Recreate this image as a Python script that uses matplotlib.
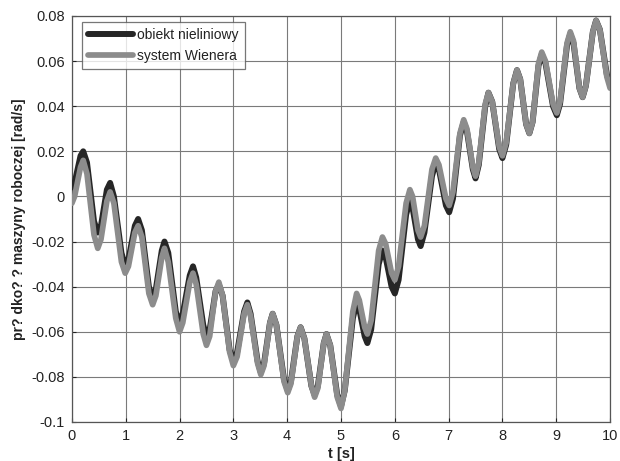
import matplotlib
matplotlib.use("Agg")
import matplotlib.pyplot as plt

# Points (time [s])
t = [0.00, 0.05, 0.16, 0.21, 0.28, 0.41, 0.48, 0.54, 0.65, 0.71, 0.78, 0.92, 0.99, 1.05, 1.17,
     1.23, 1.30, 1.43, 1.50, 1.56, 1.67, 1.72, 1.79, 1.93, 2.00, 2.06, 2.19, 2.25, 2.31, 2.44,
     2.50, 2.56, 2.67, 2.73, 2.80, 2.93, 3.00, 3.07, 3.20, 3.26, 3.32, 3.45, 3.51, 3.57, 3.68,
     3.73, 3.80, 3.94, 4.01, 4.07, 4.19, 4.25, 4.32, 4.45, 4.51, 4.57, 4.68, 4.73, 4.80, 4.93,
     5.00, 5.07, 5.22, 5.29, 5.34, 5.44, 5.49, 5.56, 5.70, 5.77, 5.83, 5.94, 6.00, 6.07, 6.21,
     6.28, 6.33, 6.43, 6.48, 6.55, 6.69, 6.76, 6.82, 6.95, 7.01, 7.08, 7.21, 7.28, 7.34, 7.45,
     7.50, 7.56, 7.68, 7.74, 7.81, 7.94, 8.00, 8.07, 8.20, 8.27, 8.33, 8.44, 8.50, 8.56, 8.67,
     8.73, 8.80, 8.94, 9.01, 9.07, 9.20, 9.26, 9.32, 9.43, 9.49, 9.55, 9.68, 9.74, 9.81, 9.94,
     10.00]

# obiekt nieliniowy [rad/s]
obiekt = [0.004, 0.006, 0.018, 0.020, 0.015, -0.011, -0.016, -0.013, 0.003, 0.006, 0.000, -0.025,
          -0.031, -0.028, -0.013, -0.010, -0.015, -0.040, -0.045, -0.041, -0.024, -0.020, -0.025,
          -0.051, -0.056, -0.052, -0.035, -0.031, -0.036, -0.057, -0.062, -0.059, -0.042, -0.039,
          -0.044, -0.068, -0.073, -0.069, -0.051, -0.047, -0.052, -0.073, -0.078, -0.074, -0.056,
          -0.052, -0.057, -0.081, -0.086, -0.082, -0.062, -0.058, -0.063, -0.084, -0.088, -0.084,
          -0.065, -0.061, -0.066, -0.088, -0.093, -0.086, -0.054, -0.047, -0.050, -0.062, -0.065,
          -0.059, -0.030, -0.024, -0.027, -0.040, -0.043, -0.037, -0.008, -0.002, -0.005, -0.019,
          -0.022, -0.016, 0.009, 0.015, 0.012, -0.004, -0.007, -0.001, 0.027, 0.033, 0.029, 0.012,
          0.008, 0.014, 0.040, 0.046, 0.042, 0.021, 0.017, 0.023, 0.050, 0.056, 0.052, 0.032,
          0.028, 0.033, 0.058, 0.063, 0.059, 0.040, 0.036, 0.041, 0.067, 0.072, 0.068, 0.048,
          0.044, 0.049, 0.073, 0.078, 0.074, 0.054, 0.050]

# system Wienera [rad/s]
wiener = [-0.003, 0.000, 0.013, 0.016, 0.010, -0.017, -0.023, -0.019, -0.002, 0.002, -0.003, -0.029,
          -0.034, -0.031, -0.016, -0.013, -0.018, -0.043, -0.048, -0.044, -0.027, -0.023, -0.029,
          -0.054, -0.060, -0.056, -0.038, -0.034, -0.039, -0.061, -0.066, -0.062, -0.042, -0.038,
          -0.044, -0.069, -0.075, -0.071, -0.052, -0.048, -0.053, -0.074, -0.079, -0.075, -0.056,
          -0.052, -0.057, -0.082, -0.087, -0.083, -0.062, -0.058, -0.063, -0.084, -0.089, -0.085,
          -0.065, -0.061, -0.066, -0.089, -0.094, -0.086, -0.051, -0.043, -0.046, -0.058, -0.061,
          -0.055, -0.024, -0.018, -0.021, -0.034, -0.037, -0.031, -0.003, 0.003, 0.000, -0.015,
          -0.018, -0.013, 0.012, 0.017, 0.014, -0.001, -0.004, 0.002, 0.028, 0.034, 0.030, 0.013,
          0.009, 0.015, 0.041, 0.046, 0.042, 0.022, 0.018, 0.024, 0.050, 0.056, 0.052, 0.032,
          0.028, 0.033, 0.059, 0.064, 0.060, 0.041, 0.037, 0.042, 0.068, 0.073, 0.069, 0.048,
          0.044, 0.049, 0.073, 0.078, 0.074, 0.053, 0.048]

labels = ["obiekt nieliniowy", "system Wienera"]
xticks = [0, 1, 2, 3, 4, 5, 6, 7, 8, 9, 10]
yticks = [-0.1, -0.08, -0.06, -0.04, -0.02, 0, 0.02, 0.04, 0.06, 0.08]
ytick_labels = ["-0.1", "-0.08", "-0.06", "-0.04", "-0.02", "0", "0.02", "0.04", "0.06", "0.08"]

plt.rcParams['font.family'] = ['Liberation Sans', 'DejaVu Sans']

fig = plt.figure(figsize=(6.2, 4.61), dpi=100, facecolor='white')
ax = fig.add_axes([0.116, 0.0846, 0.868, 0.8807])

ax.plot(t, obiekt, color='#262626', lw=4.3, solid_joinstyle='round',
        solid_capstyle='round', label=labels[0], zorder=3)
ax.plot(t, wiener, color='#8c8c8c', lw=4.1, solid_joinstyle='round',
        solid_capstyle='round', label=labels[1], zorder=4)

ax.set_xlim(0, 10)
ax.set_ylim(-0.1, 0.08)
ax.set_xticks(xticks)
ax.set_xticklabels([str(x) for x in xticks])
ax.set_yticks(yticks)
ax.set_yticklabels(ytick_labels)
ax.grid(True, color='#7a7a7a', lw=0.8, linestyle='-')
ax.set_axisbelow(True)
ax.tick_params(direction='in', length=3, labelsize=10.5, colors='#222222', pad=5)
for s in ax.spines.values():
    s.set_color('#555555')
    s.set_linewidth(0.9)

ax.set_xlabel('t [s]', fontsize=10.5, fontweight='bold', color='#222222', labelpad=3)
ax.set_ylabel('pr? dko? ? maszyny roboczej [rad/s]', fontsize=10,
              fontweight='bold', color='#222222', labelpad=4)

leg = ax.legend(loc='upper left', bbox_to_anchor=(0.0186, 0.985), borderaxespad=0,
                fontsize=10, frameon=True, fancybox=False, edgecolor='#555555',
                handlelength=3.2, handletextpad=0.35, borderpad=0.45,
                labelspacing=0.45)
leg.get_frame().set_linewidth(0.9)
for txt in leg.get_texts():
    txt.set_color('#222222')

fig.savefig('out.png', dpi=100, facecolor='white')
